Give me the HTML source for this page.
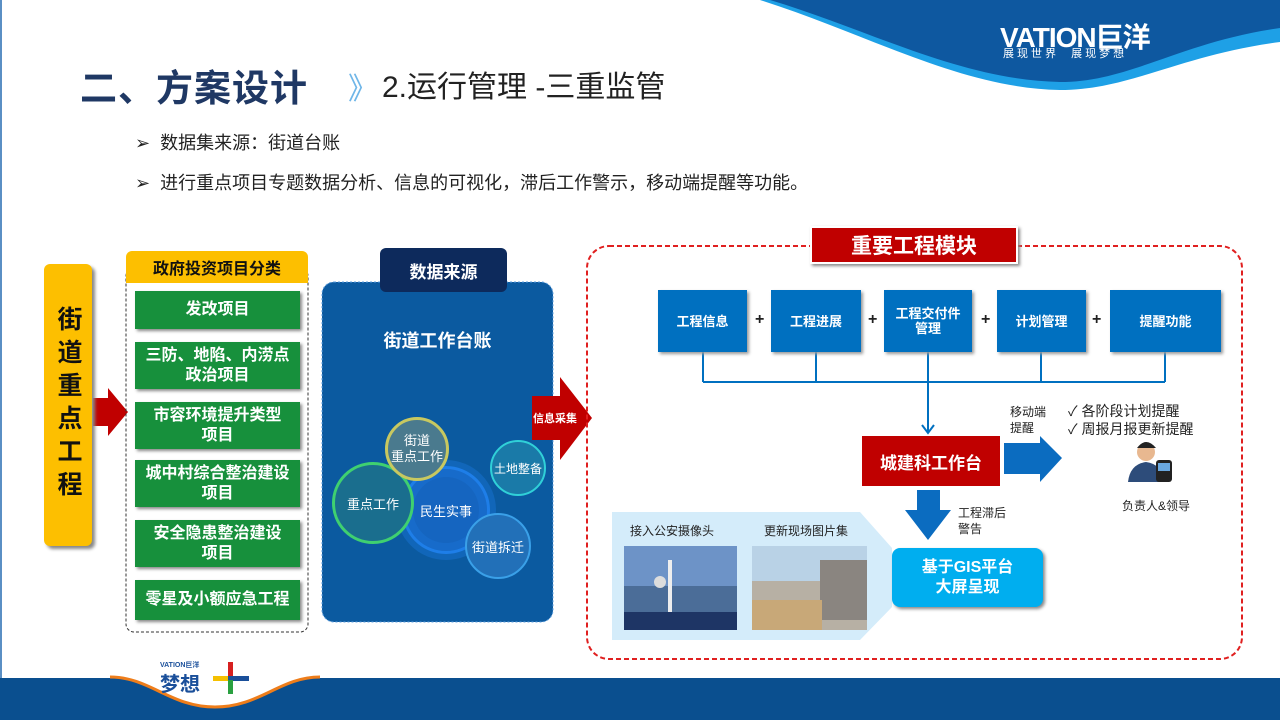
<!DOCTYPE html>
<html><head><meta charset="utf-8"><style>
*{margin:0;padding:0;box-sizing:border-box}
body{width:1280px;height:720px;position:relative;overflow:hidden;background:#fff;font-family:"Liberation Sans","Noto Sans CJK SC",sans-serif}
.a{position:absolute}
.c{display:flex;align-items:center;justify-content:center;text-align:center}
.g{position:absolute;left:135px;width:165px;background:#17903c;color:#fff;font-weight:bold;font-size:16px;line-height:20px;box-shadow:2px 2px 3px #888;display:flex;align-items:center;justify-content:center;text-align:center}
.b{position:absolute;top:290px;height:62px;background:#0070c0;color:#fff;font-size:13px;font-weight:bold;display:flex;align-items:center;justify-content:center;text-align:center;line-height:15px;box-shadow:2px 2px 3px #999}
.p{position:absolute;top:311px;font-size:16px;font-weight:bold;color:#222}
.t{position:absolute;color:#fff;text-align:center;display:flex;align-items:center;justify-content:center;border-radius:50%;white-space:nowrap}
</style></head><body>
<svg class="a" style="left:0;top:0" width="1280" height="720">
<path d="M760 0 L1280 0 L1280 42 C1180 55 1130 90 1060 90 C960 88 870 35 760 0Z" fill="#1ea0e6"/>
<path d="M770 0 L1280 0 L1280 28 C1180 42 1130 82 1060 82 C960 80 870 30 770 0Z" fill="#0e58a0"/>
<path d="M0 678 L110 678 C150 678 170 708 215 708 C260 708 280 678 320 678 L1280 678 L1280 720 L0 720Z" fill="#0a4f8f"/>
<path d="M110 677 C150 677 170 707 215 707 C260 707 280 677 320 677" fill="none" stroke="#ee7d1a" stroke-width="3"/>
<line x1="1" y1="0" x2="1" y2="678" stroke="#5a8fc4" stroke-width="2"/>
<polygon points="93,398 108,398 108,388 128,412 108,436 108,426 93,426" fill="#c00000"/>
<rect x="126" y="268" width="182" height="364" rx="8" fill="none" stroke="#333" stroke-dasharray="3,2"/>
<rect x="322" y="282" width="231" height="340" rx="12" fill="#0b5aa0" stroke="#5fa0e0" stroke-dasharray="2,2"/>
<polygon points="532,396 560,396 560,377 592,418 560,460 560,440 532,440" fill="#c00000"/>
<rect x="587" y="246" width="655" height="413" rx="22" fill="none" stroke="#e02020" stroke-width="2" stroke-dasharray="5,3"/>
<g stroke="#0070c0" stroke-width="2" fill="none">
<path d="M703 352 V382 M816 352 V382 M928 352 V382 M1041 352 V382 M1165 352 V382 M703 382 H1165 M928 382 V432"/>
<path d="M922 425 L928 433 L934 425"/>
</g>
<polygon points="1004,443 1040,443 1040,436 1062,458 1040,482 1040,474 1004,474" fill="#0b6cc0"/>
<polygon points="917,490 940,490 940,510 951,510 928,540 905,510 917,510" fill="#0b6cc0"/>
<polygon points="612,512 860,512 892,548 892,607 860,640 612,640" fill="#d4ecfa"/>
<rect x="624" y="546" width="113" height="84" fill="#4b6d98"/>
<rect x="624" y="546" width="113" height="40" fill="#6d93c7"/>
<rect x="668" y="560" width="4" height="70" fill="#eee"/>
<circle cx="660" cy="582" r="6" fill="#ddd"/>
<rect x="624" y="612" width="113" height="18" fill="#1e3565"/>
<rect x="752" y="546" width="115" height="84" fill="#b7b0a4"/>
<rect x="752" y="546" width="115" height="35" fill="#b9d2e6"/>
<rect x="820" y="560" width="47" height="60" fill="#8a8580"/>
<rect x="752" y="600" width="70" height="30" fill="#c8a878"/>
<circle cx="1146" cy="452" r="9" fill="#e8b890"/>
<path d="M1137 448 Q1146 436 1156 448 Z" fill="#222"/>
<path d="M1128 482 Q1130 464 1146 462 Q1162 464 1164 482Z" fill="#2d4c7a"/>
<rect x="1156" y="460" width="16" height="22" rx="3" fill="#222"/>
<rect x="1158" y="463" width="12" height="8" fill="#6aa8e0"/>
</svg>

<div class="a" style="left:1000px;top:16px;color:#fff;font-size:28px;font-weight:bold;letter-spacing:-1px">VATION巨洋</div>
<div class="a" style="left:1003px;top:45px;color:#fff;font-size:11px;letter-spacing:3px">展现世界 &nbsp;展现梦想</div>

<div class="a" style="left:80px;top:58px;font-size:37px;font-weight:bold;color:#1f3864;letter-spacing:1px">二、方案设计</div>
<div class="a" style="left:348px;top:64px;font-size:30px;color:#6fb6e8">》</div>
<div class="a" style="left:382px;top:62px;font-size:30px;color:#222">2.运行管理 -三重监管</div>

<div class="a" style="left:135px;top:129px;font-size:18px;color:#222">➢ &nbsp;数据集来源：街道台账</div>
<div class="a" style="left:135px;top:169px;font-size:18px;color:#222">➢ &nbsp;进行重点项目专题数据分析、信息的可视化，滞后工作警示，移动端提醒等功能。</div>

<div class="a c" style="left:44px;top:264px;width:48px;height:282px;background:#fdbf00;border-radius:6px;box-shadow:3px 3px 3px #888;font-size:25px;font-weight:bold;color:#111;line-height:32px;writing-mode:vertical-rl;letter-spacing:8px">街道重点工程</div>

<div class="a c" style="left:126px;top:251px;width:182px;height:32px;background:#fdbf00;border-radius:6px 6px 0 0;font-size:16px;font-weight:bold;color:#111">政府投资项目分类</div>
<div class="g" style="top:291px;height:38px">发改项目</div>
<div class="g" style="top:342px;height:47px">三防、地陷、内涝点<br>政治项目</div>
<div class="g" style="top:402px;height:47px">市容环境提升类型<br>项目</div>
<div class="g" style="top:460px;height:47px">城中村综合整治建设<br>项目</div>
<div class="g" style="top:520px;height:47px">安全隐患整治建设<br>项目</div>
<div class="g" style="top:580px;height:40px">零星及小额应急工程</div>

<div class="a c" style="left:380px;top:248px;width:127px;height:44px;background:#0d2a5c;border-radius:6px;color:#fff;font-size:17px;font-weight:bold">数据来源</div>
<div class="a c" style="left:322px;top:328px;width:231px;height:24px;color:#fff;font-size:18px;font-weight:bold">街道工作台账</div>

<div class="t" style="left:402px;top:466px;width:88px;height:88px;border:3px solid #1e7ee8;box-shadow:0 0 0 8px rgba(30,126,232,.25) inset, 0 0 0 6px rgba(30,126,232,.35);background:#1565c0;font-size:13px">民生实事</div>
<div class="t" style="left:332px;top:462px;width:82px;height:82px;border:3px solid #3fd070;background:#1a6e8e;font-size:13px">重点工作</div>
<div class="t" style="left:385px;top:417px;width:64px;height:64px;border:3px solid #c8c860;background:#4a7a8e;font-size:13px;line-height:16px">街道<br>重点工作</div>
<div class="t" style="left:490px;top:440px;width:56px;height:56px;border:2px solid #30d0d8;background:#1a7aa8;font-size:12px">土地整备</div>
<div class="t" style="left:465px;top:513px;width:66px;height:66px;border:2px solid #3aa0e8;background:#2270b8;font-size:13px">街道拆迁</div>

<div class="a" style="left:533px;top:410px;color:#fff;font-size:11px;font-weight:bold">信息采集</div>

<div class="a c" style="left:810px;top:226px;width:208px;height:38px;background:#c00000;border:2px solid #fff;box-shadow:2px 2px 3px #888;color:#fff;font-size:21px;font-weight:bold">重要工程模块</div>

<div class="b" style="left:658px;width:89px">工程信息</div>
<div class="b" style="left:771px;width:90px">工程进展</div>
<div class="b" style="left:884px;width:88px">工程交付件<br>管理</div>
<div class="b" style="left:997px;width:89px">计划管理</div>
<div class="b" style="left:1110px;width:111px">提醒功能</div>
<div class="p" style="left:755px">+</div>
<div class="p" style="left:868px">+</div>
<div class="p" style="left:981px">+</div>
<div class="p" style="left:1092px">+</div>

<div class="a c" style="left:862px;top:436px;width:138px;height:50px;background:#c00000;color:#fff;font-size:17px;font-weight:bold">城建科工作台</div>
<div class="a" style="left:1010px;top:404px;font-size:12px;color:#222;line-height:16px">移动端<br>提醒</div>
<div class="a" style="left:1068px;top:402px;font-size:14px;color:#222;line-height:18px">✓ 各阶段计划提醒<br>✓ 周报月报更新提醒</div>
<div class="a" style="left:1122px;top:497px;font-size:12px;color:#222">负责人&amp;领导</div>
<div class="a" style="left:958px;top:505px;font-size:12px;color:#222;line-height:16px">工程滞后<br>警告</div>

<div class="a" style="left:630px;top:522px;font-size:12px;color:#222">接入公安摄像头</div>
<div class="a" style="left:764px;top:522px;font-size:12px;color:#222">更新现场图片集</div>
<div class="a c" style="left:892px;top:548px;width:151px;height:59px;background:#00aeef;border-radius:8px;box-shadow:2px 2px 3px #888;color:#fff;font-size:16px;font-weight:bold;line-height:20px">基于GIS平台<br>大屏呈现</div>

<div class="a" style="left:160px;top:660px;font-size:7px;font-weight:bold;color:#1a4f9a">VATION巨洋</div>
<div class="a" style="left:160px;top:668px;font-size:20px;font-weight:bold;color:#1a4f9a">梦想</div>
<div class="a" style="left:228px;top:662px;width:5px;height:32px;background:#d62020"></div>
<div class="a" style="left:213px;top:676px;width:36px;height:5px;background:#1a4f9a"></div>
<div class="a" style="left:213px;top:676px;width:15px;height:5px;background:#f5c000"></div>
<div class="a" style="left:228px;top:680px;width:5px;height:14px;background:#2aa040"></div>
</body></html>
